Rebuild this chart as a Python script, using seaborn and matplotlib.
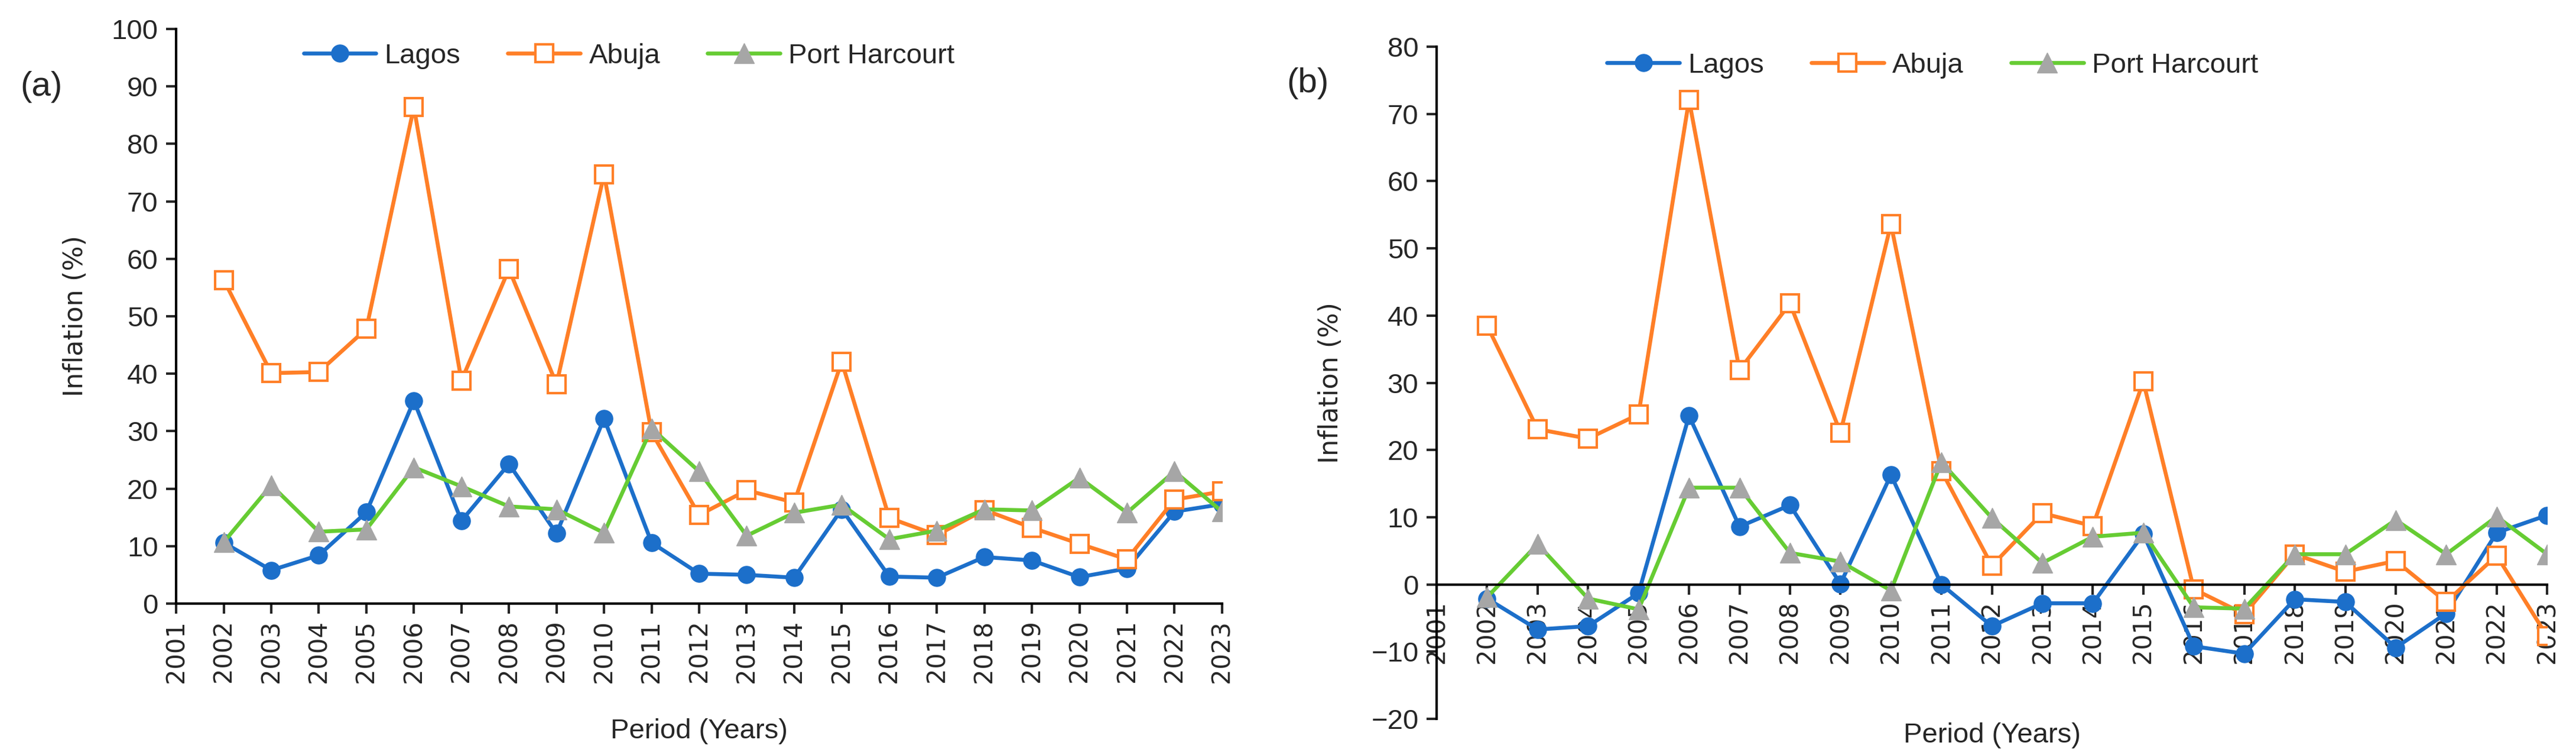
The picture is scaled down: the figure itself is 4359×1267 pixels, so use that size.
import pandas as pd
import matplotlib
matplotlib.use("Agg")
import matplotlib.pyplot as plt
import seaborn as sns

years = list(range(2002, 2024))

# panel (a) values
lagos_a = [10.6, 5.8, 8.4, 15.9, 35.3, 14.4, 24.3, 12.2, 32.2, 10.6, 5.2,
           5.0, 4.5, 16.4, 4.7, 4.5, 8.1, 7.5, 4.6, 6.1, 16.0, 17.3]
abuja_a = [56.3, 40.1, 40.3, 47.8, 86.4, 38.8, 58.2, 38.2, 74.7, 29.8, 15.4,
           19.7, 17.6, 42.1, 14.9, 11.9, 16.3, 13.2, 10.4, 7.7, 18.1, 19.5]
ph_a = [10.7, 20.6, 12.5, 12.9, 23.7, 20.4, 16.9, 16.4, 12.3, 30.5, 23.0,
        11.8, 15.8, 17.2, 11.2, 12.7, 16.4, 16.2, 21.9, 15.8, 23.0, 16.0]

# panel (b) values
lagos_b = [-2.1, -6.7, -6.2, -1.3, 25.1, 8.6, 11.8, 0.1, 16.3, 0.0, -6.2,
           -2.8, -2.8, 7.5, -9.2, -10.3, -2.2, -2.6, -9.4, -4.3, 7.7, 10.3]
abuja_b = [38.5, 23.1, 21.7, 25.3, 72.1, 31.9, 41.8, 22.6, 53.6, 16.9, 2.8,
           10.6, 8.7, 30.2, -0.7, -4.4, 4.5, 1.9, 3.5, -2.6, 4.3, -7.7]
ph_b = [-1.9, 6.0, -2.1, -3.7, 14.4, 14.4, 4.7, 3.4, -0.9, 18.2, 9.9,
        3.2, 7.1, 7.7, -3.4, -3.6, 4.5, 4.5, 9.6, 4.5, 10.1, 4.5]

cities = ["Lagos", "Abuja", "Port Harcourt"]
tick_years = list(range(2001, 2024))

sns.set_theme(style="ticks")
plt.rcParams["font.family"] = ["Liberation Sans Narrow", "Liberation Sans", "DejaVu Sans"]

styles = {
    "Lagos": dict(color="#1C6FCA", marker="o", markersize=21,
                  markerfacecolor="#1C6FCA", markeredgecolor="#1C6FCA", markeredgewidth=1),
    "Abuja": dict(color="#FF7F27", marker="s", markersize=21,
                  markerfacecolor="white", markeredgecolor="#FF7F27", markeredgewidth=3),
    "Port Harcourt": dict(color="#66CC33", marker="^", markersize=25,
                          markerfacecolor="#A6A6A6", markeredgecolor="#A6A6A6", markeredgewidth=1),
}

fig = plt.figure(figsize=(43.59, 12.67), dpi=100)
ax_a = fig.add_axes([0.0684, 0.1942, 0.4060, 0.7671])
ax_b = fig.add_axes([0.5577, 0.0402, 0.4311, 0.8974])

# panel b: x axis crosses at zero (set before tick styling, it resets ticks)
ax_b.spines["bottom"].set_position(("data", 0))

panels = [
    (ax_a, [lagos_a, abuja_a, ph_a], (0, 100), (0.433, 0.953)),
    (ax_b, [lagos_b, abuja_b, ph_b], (-20, 80), (0.4465, 0.972)),
]

for ax, series, ylim, leg_pos in panels:
    df = pd.DataFrame({"Year": years, "Lagos": series[0],
                       "Abuja": series[1], "Port Harcourt": series[2]})
    for city in cities:
        sns.lineplot(data=df, x="Year", y=city, ax=ax, linewidth=4.8,
                     label=city, **styles[city])
    ax.set_xlim(2001, 2023)
    ax.set_ylim(*ylim)
    ax.set_xticks(tick_years)
    ax.set_xticklabels([str(y) for y in tick_years], rotation=90,
                       fontsize=30, family="DejaVu Sans")
    ax.set_yticks(range(ylim[0], ylim[1] + 1, 10))
    ax.tick_params(axis="y", labelsize=34, length=12, width=3, pad=10)
    ax.tick_params(axis="x", length=12, width=3, pad=8)
    for s in ["top", "right"]:
        ax.spines[s].set_visible(False)
    for s in ["left", "bottom"]:
        ax.spines[s].set_linewidth(3)
        ax.spines[s].set_color("black")
    ax.set_ylabel("Inflation (%)", fontsize=32, family="DejaVu Sans", labelpad=12)
    ax.set_xlabel("Period (Years)", fontsize=34)
    ax.legend(loc="center", bbox_to_anchor=leg_pos, ncol=3, frameon=False,
              fontsize=34, handlelength=2.6, handletextpad=0.3, columnspacing=1.7)

ax_b.xaxis.set_label_coords(0.5, -0.005)
ax_a.xaxis.set_label_coords(0.5, -0.2)
ax_a.yaxis.set_label_coords(-0.084, 0.5)
ax_b.yaxis.set_label_coords(-0.084, 0.5)

fig.text(0.016, 0.884, "(a)", fontsize=42, va="center", ha="center")
fig.text(0.5077, 0.889, "(b)", fontsize=42, va="center", ha="center")

fig.savefig("out.png", dpi=100, facecolor="white")
